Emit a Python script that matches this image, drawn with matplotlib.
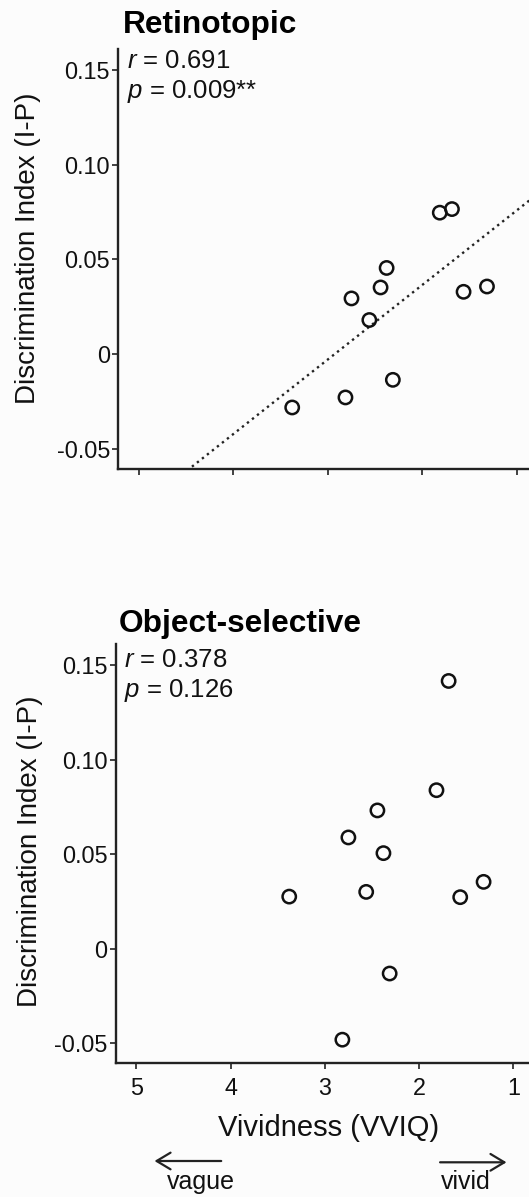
import numpy as np
import matplotlib.pyplot as plt
from matplotlib.patches import FancyArrowPatch

plt.rcParams['font.family'] = ['Liberation Sans', 'DejaVu Sans']
plt.rcParams['mathtext.fontset'] = 'custom'
plt.rcParams['mathtext.it'] = 'Liberation Sans:italic'
plt.rcParams['mathtext.rm'] = 'Liberation Sans'

# VVIQ vividness per subject (same subjects in both panels)
vviq = [3.378, 2.814, 2.75, 2.561, 2.442, 2.378, 2.312, 1.815, 1.686, 1.563, 1.315]
di_retino = [-0.0282, -0.0229, 0.0294, 0.0180, 0.0352, 0.0455, -0.0136, 0.0747, 0.0766, 0.0329, 0.0357]
di_object = [0.0275, -0.0482, 0.0588, 0.0300, 0.0731, 0.0505, -0.0132, 0.0838, 0.1416, 0.0272, 0.0353]

titles = ['Retinotopic', 'Object-selective']
stats = [('0.691', '0.009**'), ('0.378', '0.126')]
yticks = [-0.05, 0, 0.05, 0.10, 0.15]
yticklabels = ['-0.05', '0', '0.05', '0.10', '0.15']
xticks = [5, 4, 3, 2, 1]

W, H = 529, 1197
bg = '#fcfcfc'
fig = plt.figure(figsize=(W / 100, H / 100), dpi=100, facecolor=bg)


def fx(x):
    return x / W


def fy(y):
    return 1 - y / H


# axes boxes in pixels: left, top, right, bottom
boxes = [(118.3, 49.3, 535.6, 469.0), (115.7, 644.3, 532.1, 1063.3)]
title_pos = [(123.3, 33.3), (118.3, 631.7)]
ylab_pos = [(28.3, 248), (29.7, 851)]
ann_pos = [(126.7, 68.3), (124.0, 666.7)]

for i, di in enumerate([di_retino, di_object]):
    l, t, r, b = boxes[i]
    ax = fig.add_axes([fx(l), fy(b), (r - l) / W, (b - t) / H])
    ax.set_facecolor(bg)
    ax.scatter(vviq, di, s=92, facecolors='none', edgecolors='#111111',
               linewidths=1.8, zorder=3)
    if i == 0:
        slope, icpt = np.polyfit(vviq, di, 1)
        xs = np.array([5.5, 0.5])
        ax.plot(xs, slope * xs + icpt, color='#222222', lw=1.7,
                linestyle=(0, (1, 1.7)), zorder=2)
    ax.set_xlim(5.22, 0.8)
    ax.set_ylim(-0.0607, 0.161)
    ax.set_yticks(yticks)
    ax.set_yticklabels(yticklabels)
    ax.set_xticks(xticks)
    if i == 0:
        ax.set_xticklabels([])
    else:
        ax.set_xticklabels([str(v) for v in xticks])
    for s in ['top', 'right']:
        ax.spines[s].set_visible(False)
    for s in ['left', 'bottom']:
        ax.spines[s].set_linewidth(1.7)
        ax.spines[s].set_color('#222222')
    ax.tick_params(axis='both', direction='out', length=4, width=1.2,
                   color='#222222', labelsize=16.8, labelcolor='#111111')
    ax.tick_params(axis='y', pad=2)
    ax.tick_params(axis='x', pad=6)

    fig.text(fx(title_pos[i][0]), fy(title_pos[i][1]), titles[i],
             fontsize=22.8, fontweight='bold', ha='left', va='baseline')
    fig.text(fx(ylab_pos[i][0]), fy(ylab_pos[i][1]), 'Discrimination Index (I-P)',
             fontsize=20, rotation=90, ha='center', va='center', color='#111111')
    ax_x, ax_y = ann_pos[i]
    fig.text(fx(ax_x), fy(ax_y), r'$r$ = ' + stats[i][0], fontsize=18.5,
             ha='left', va='baseline', color='#111111')
    fig.text(fx(ax_x), fy(ax_y + 30), r'$p$ = ' + stats[i][1], fontsize=18.5,
             ha='left', va='baseline', color='#111111')

fig.text(fx(329), fy(1136), 'Vividness (VVIQ)', fontsize=21,
         ha='center', va='baseline', color='#111111')

arrows = [((224, 1161), (151.7, 1161)), ((437.3, 1162.3), (509.3, 1162.3))]
for (x0, y0), (x1, y1) in arrows:
    fig.add_artist(FancyArrowPatch((fx(x0), fy(y0)), (fx(x1), fy(y1)),
                                   transform=fig.transFigure,
                                   arrowstyle='->,head_length=0.5,head_width=0.3',
                                   mutation_scale=20, lw=1.6, color='#222222'))
fig.text(fx(200.8), fy(1189), 'vague', fontsize=18, ha='center', va='baseline',
         color='#111111')
fig.text(fx(465.8), fy(1189), 'vivid', fontsize=18, ha='center', va='baseline',
         color='#111111')

fig.savefig('out.png', dpi=100, facecolor=bg)
